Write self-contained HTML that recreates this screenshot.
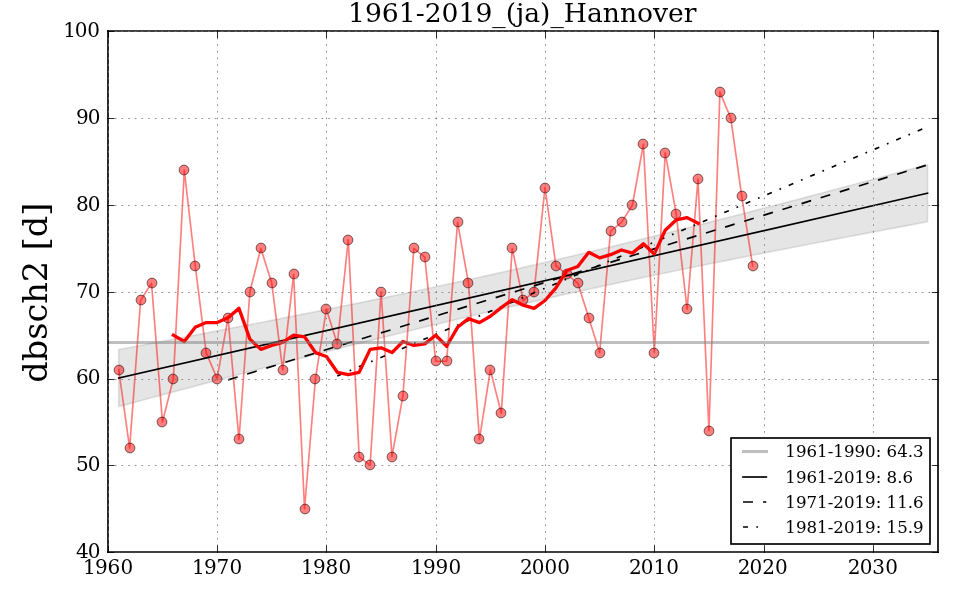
<!DOCTYPE html>
<html lang="de"><head><meta charset="utf-8"><title>1961-2019_(ja)_Hannover</title>
<style>html,body{margin:0;padding:0;background:#fff;overflow:hidden}svg{display:block}text{font-family:"DejaVu Serif","Liberation Serif",serif;fill:#000}</style></head><body>
<svg width="960" height="600" viewBox="0 0 960 600">
<rect width="960" height="600" fill="#fff"/>
<polygon points="118.73,349.5 129.66,347.46 140.59,345.41 151.52,343.35 162.45,341.3 173.38,339.23 184.31,337.16 195.24,335.08 206.17,332.99 217.1,330.9 228.03,328.8 238.96,326.69 249.89,324.57 260.82,322.45 271.75,320.31 282.68,318.16 293.61,316.01 304.54,313.84 315.47,311.66 326.4,309.47 337.33,307.27 348.26,305.05 359.19,302.82 370.12,300.58 381.05,298.32 391.98,296.05 402.91,293.76 413.84,291.45 424.77,289.13 435.7,286.79 446.63,284.44 457.56,282.06 468.49,279.67 479.42,277.26 490.35,274.83 501.28,272.38 512.21,269.91 523.14,267.42 534.07,264.91 545,262.39 555.93,259.84 566.86,257.28 577.79,254.69 588.72,252.09 599.65,249.47 610.58,246.83 621.51,244.18 632.44,241.5 643.37,238.81 654.3,236.11 665.23,233.39 676.16,230.65 687.09,227.9 698.02,225.13 708.95,222.35 719.88,219.56 730.81,216.76 741.74,213.94 752.67,211.11 763.6,208.28 774.53,205.43 785.46,202.57 796.39,199.7 807.32,196.82 818.25,193.94 829.18,191.04 840.11,188.14 851.04,185.23 861.97,182.31 872.9,179.39 883.83,176.46 894.76,173.53 905.69,170.59 916.62,167.64 927.55,164.69 927.55,221.8 916.62,223.84 905.69,225.89 894.76,227.94 883.83,230 872.9,232.07 861.97,234.14 851.04,236.22 840.11,238.31 829.18,240.4 818.25,242.5 807.32,244.61 796.39,246.73 785.46,248.85 774.53,250.99 763.6,253.14 752.67,255.29 741.74,257.46 730.81,259.64 719.88,261.83 708.95,264.03 698.02,266.25 687.09,268.48 676.16,270.72 665.23,272.98 654.3,275.25 643.37,277.54 632.44,279.85 621.51,282.17 610.58,284.51 599.65,286.86 588.72,289.24 577.79,291.63 566.86,294.04 555.93,296.47 545,298.92 534.07,301.39 523.14,303.88 512.21,306.38 501.28,308.91 490.35,311.46 479.42,314.02 468.49,316.61 457.56,319.21 446.63,321.83 435.7,324.47 424.77,327.12 413.84,329.8 402.91,332.49 391.98,335.19 381.05,337.91 370.12,340.65 359.19,343.4 348.26,346.17 337.33,348.95 326.4,351.74 315.47,354.54 304.54,357.36 293.61,360.19 282.68,363.02 271.75,365.87 260.82,368.73 249.89,371.6 238.96,374.48 228.03,377.36 217.1,380.26 206.17,383.16 195.24,386.07 184.31,388.98 173.38,391.91 162.45,394.84 151.52,397.77 140.59,400.71 129.66,403.66 118.73,406.61" fill="#000" fill-opacity="0.1" stroke="#000" stroke-opacity="0.1" stroke-width="1.67" stroke-linejoin="miter"/>
<g fill="none" stroke-linejoin="round">
<path d="M118.73 369.92 L129.66 448.04 L140.59 300.48 L151.52 283.12 L162.45 422 L173.38 378.6 L184.31 170.28 L195.24 265.76 L206.17 352.56 L217.1 378.6 L228.03 317.84 L238.96 439.36 L249.89 291.8 L260.82 248.4 L271.75 283.12 L282.68 369.92 L293.61 274.44 L304.54 508.8 L315.47 378.6 L326.4 309.16 L337.33 343.88 L348.26 239.72 L359.19 456.72 L370.12 465.4 L381.05 291.8 L391.98 456.72 L402.91 395.96 L413.84 248.4 L424.77 257.08 L435.7 361.24 L446.63 361.24 L457.56 222.36 L468.49 283.12 L479.42 439.36 L490.35 369.92 L501.28 413.32 L512.21 248.4 L523.14 300.48 L534.07 291.8 L545 187.64 L555.93 265.76 L566.86 274.44 L577.79 283.12 L588.72 317.84 L599.65 352.56 L610.58 231.04 L621.51 222.36 L632.44 205 L643.37 144.24 L654.3 352.56 L665.23 152.92 L676.16 213.68 L687.09 309.16 L698.02 178.96 L708.95 430.68 L719.88 92.16 L730.81 118.2 L741.74 196.32 L752.67 265.76" stroke="#f00" stroke-opacity="0.5" stroke-width="1.67" stroke-linecap="square"/>
</g>
<g fill="#f00" fill-opacity="0.5" stroke="#000" stroke-opacity="0.6" stroke-width="0.9">
<circle cx="119" cy="370" r="4.9"/>
<circle cx="130" cy="448" r="4.9"/>
<circle cx="141" cy="300" r="4.9"/>
<circle cx="152" cy="283" r="4.9"/>
<circle cx="162" cy="422" r="4.9"/>
<circle cx="173" cy="379" r="4.9"/>
<circle cx="184" cy="170" r="4.9"/>
<circle cx="195" cy="266" r="4.9"/>
<circle cx="206" cy="353" r="4.9"/>
<circle cx="217" cy="379" r="4.9"/>
<circle cx="228" cy="318" r="4.9"/>
<circle cx="239" cy="439" r="4.9"/>
<circle cx="250" cy="292" r="4.9"/>
<circle cx="261" cy="248" r="4.9"/>
<circle cx="272" cy="283" r="4.9"/>
<circle cx="283" cy="370" r="4.9"/>
<circle cx="294" cy="274" r="4.9"/>
<circle cx="305" cy="509" r="4.9"/>
<circle cx="315" cy="379" r="4.9"/>
<circle cx="326" cy="309" r="4.9"/>
<circle cx="337" cy="344" r="4.9"/>
<circle cx="348" cy="240" r="4.9"/>
<circle cx="359" cy="457" r="4.9"/>
<circle cx="370" cy="465" r="4.9"/>
<circle cx="381" cy="292" r="4.9"/>
<circle cx="392" cy="457" r="4.9"/>
<circle cx="403" cy="396" r="4.9"/>
<circle cx="414" cy="248" r="4.9"/>
<circle cx="425" cy="257" r="4.9"/>
<circle cx="436" cy="361" r="4.9"/>
<circle cx="447" cy="361" r="4.9"/>
<circle cx="458" cy="222" r="4.9"/>
<circle cx="468" cy="283" r="4.9"/>
<circle cx="479" cy="439" r="4.9"/>
<circle cx="490" cy="370" r="4.9"/>
<circle cx="501" cy="413" r="4.9"/>
<circle cx="512" cy="248" r="4.9"/>
<circle cx="523" cy="300" r="4.9"/>
<circle cx="534" cy="292" r="4.9"/>
<circle cx="545" cy="188" r="4.9"/>
<circle cx="556" cy="266" r="4.9"/>
<circle cx="567" cy="274" r="4.9"/>
<circle cx="578" cy="283" r="4.9"/>
<circle cx="589" cy="318" r="4.9"/>
<circle cx="600" cy="353" r="4.9"/>
<circle cx="611" cy="231" r="4.9"/>
<circle cx="622" cy="222" r="4.9"/>
<circle cx="632" cy="205" r="4.9"/>
<circle cx="643" cy="144" r="4.9"/>
<circle cx="654" cy="353" r="4.9"/>
<circle cx="665" cy="153" r="4.9"/>
<circle cx="676" cy="214" r="4.9"/>
<circle cx="687" cy="309" r="4.9"/>
<circle cx="698" cy="179" r="4.9"/>
<circle cx="709" cy="431" r="4.9"/>
<circle cx="720" cy="92" r="4.9"/>
<circle cx="731" cy="118" r="4.9"/>
<circle cx="742" cy="196" r="4.9"/>
<circle cx="753" cy="266" r="4.9"/>
</g>
<g fill="none" stroke="#000" stroke-width="1.67">
<line x1="118.73" y1="378.06" x2="927.55" y2="193.24" stroke-linecap="square"/>
<line x1="228.03" y1="379.87" x2="927.55" y2="164.86" stroke-dasharray="10 10"/>
<line x1="337.33" y1="375.87" x2="927.55" y2="126.81" stroke-dasharray="5 8.33 1.67 8.33"/>
</g>
<path d="M173.38 335.2 L184.31 341.51 L195.24 327.31 L206.17 322.57 L217.1 322.57 L228.03 317.84 L238.96 308.37 L249.89 339.15 L260.82 349.4 L271.75 345.46 L282.68 342.3 L293.61 335.2 L304.54 336.78 L315.47 352.56 L326.4 356.51 L337.33 372.29 L348.26 374.65 L359.19 372.29 L370.12 349.4 L381.05 347.83 L391.98 352.56 L402.91 341.51 L413.84 345.46 L424.77 343.88 L435.7 335.2 L446.63 346.25 L457.56 327.31 L468.49 318.63 L479.42 322.57 L490.35 316.26 L501.28 307.58 L512.21 299.69 L523.14 305.21 L534.07 308.37 L545 300.48 L555.93 287.85 L566.86 270.49 L577.79 266.55 L588.72 252.35 L599.65 257.87 L610.58 254.71 L621.51 249.98 L632.44 253.13 L643.37 243.67 L654.3 253.92 L665.23 230.25 L676.16 219.99 L687.09 217.63 L698.02 223.15" fill="none" stroke="#f00" stroke-width="3.33" stroke-linejoin="round" stroke-linecap="square"/>
<line x1="108" y1="342.5" x2="929.22" y2="342.5" stroke="#808080" stroke-opacity="0.5" stroke-width="3.12"/>
<g stroke="#000" stroke-width="1.67" stroke-linecap="square" fill="none">
<line x1="108" y1="552" x2="108" y2="31"/>
<line x1="938" y1="552" x2="938" y2="31"/>
<line x1="108" y1="552" x2="938" y2="552"/>
<line x1="108" y1="31" x2="938" y2="31"/>
</g>
<g stroke="#787878" stroke-width="0.83" stroke-dasharray="1.67 5" fill="none">
<line x1="108.5" y1="552.8" x2="108.5" y2="31"/>
<line x1="217.5" y1="552.8" x2="217.5" y2="31"/>
<line x1="326.5" y1="552.8" x2="326.5" y2="31"/>
<line x1="436.5" y1="552.8" x2="436.5" y2="31"/>
<line x1="545.5" y1="552.8" x2="545.5" y2="31"/>
<line x1="654.5" y1="552.8" x2="654.5" y2="31"/>
<line x1="764.5" y1="552.8" x2="764.5" y2="31"/>
<line x1="873.5" y1="552.8" x2="873.5" y2="31"/>
<line x1="108.1" y1="465.5" x2="938" y2="465.5"/>
<line x1="108.1" y1="379.5" x2="938" y2="379.5"/>
<line x1="108.1" y1="292.5" x2="938" y2="292.5"/>
<line x1="108.1" y1="205.5" x2="938" y2="205.5"/>
<line x1="108.1" y1="118.5" x2="938" y2="118.5"/>
<line x1="108.1" y1="31.5" x2="938" y2="31.5"/>
</g>
<g stroke="#000" stroke-width="0.83" fill="none">
<line x1="108.5" y1="553" x2="108.5" y2="545.53"/>
<line x1="108.5" y1="30" x2="108.5" y2="38.07"/>
<line x1="217.5" y1="553" x2="217.5" y2="545.53"/>
<line x1="217.5" y1="30" x2="217.5" y2="38.07"/>
<line x1="326.5" y1="553" x2="326.5" y2="545.53"/>
<line x1="326.5" y1="30" x2="326.5" y2="38.07"/>
<line x1="436.5" y1="553" x2="436.5" y2="545.53"/>
<line x1="436.5" y1="30" x2="436.5" y2="38.07"/>
<line x1="545.5" y1="553" x2="545.5" y2="545.53"/>
<line x1="545.5" y1="30" x2="545.5" y2="38.07"/>
<line x1="654.5" y1="553" x2="654.5" y2="545.53"/>
<line x1="654.5" y1="30" x2="654.5" y2="38.07"/>
<line x1="764.5" y1="553" x2="764.5" y2="545.53"/>
<line x1="764.5" y1="30" x2="764.5" y2="38.07"/>
<line x1="873.5" y1="553" x2="873.5" y2="545.53"/>
<line x1="873.5" y1="30" x2="873.5" y2="38.07"/>
<line x1="107" y1="552.5" x2="114.47" y2="552.5"/>
<line x1="939" y1="552.5" x2="931.81" y2="552.5"/>
<line x1="107" y1="465.5" x2="114.47" y2="465.5"/>
<line x1="939" y1="465.5" x2="931.81" y2="465.5"/>
<line x1="107" y1="379.5" x2="114.47" y2="379.5"/>
<line x1="939" y1="379.5" x2="931.81" y2="379.5"/>
<line x1="107" y1="292.5" x2="114.47" y2="292.5"/>
<line x1="939" y1="292.5" x2="931.81" y2="292.5"/>
<line x1="107" y1="205.5" x2="114.47" y2="205.5"/>
<line x1="939" y1="205.5" x2="931.81" y2="205.5"/>
<line x1="107" y1="118.5" x2="114.47" y2="118.5"/>
<line x1="939" y1="118.5" x2="931.81" y2="118.5"/>
<line x1="107" y1="31.5" x2="114.47" y2="31.5"/>
<line x1="939" y1="31.5" x2="931.81" y2="31.5"/>
</g>
<g font-size="20px">
<text x="83.07 94.94 107.56 120.43" y="574">1960</text>
<text x="192.07 203.94 216.56 229.43" y="574">1970</text>
<text x="301.07 312.94 325.56 338.43" y="574">1980</text>
<text x="411.07 422.94 435.56 448.43" y="574">1990</text>
<text x="519.97 531.84 544.46 557.33" y="574">2000</text>
<text x="628.97 640.84 653.46 666.33" y="574">2010</text>
<text x="737.72 749.59 762.21 775.08" y="574">2020</text>
<text x="847.87 859.74 872.36 885.23" y="574">2030</text>
<text x="76.11 87.73" y="557.9">40</text>
<text x="76.11 87.73" y="471.1">50</text>
<text x="76.11 87.73" y="384.3">60</text>
<text x="76.11 87.73" y="297.5">70</text>
<text x="76.11 87.73" y="210.7">80</text>
<text x="76.11 87.73" y="123.9">90</text>
<text x="63.24 74.66 87.33" y="37.1">100</text>
</g>
<text x="522.3" y="21.6" font-size="26.6px" text-anchor="middle">1961-2019_(ja)_Hannover</text>
<text transform="translate(46.6 292.65) rotate(-90)" font-size="33.5px" text-anchor="middle">dbsch2 [d]</text>
<rect x="731" y="438" width="199" height="106" fill="#fff" stroke="#000" stroke-width="1.67"/>
<line x1="742" y1="451.5" x2="768" y2="451.5" stroke="#808080" stroke-opacity="0.5" stroke-width="3.12"/>
<line x1="743" y1="477.0" x2="766.33" y2="477.0" stroke="#000" stroke-width="1.67" stroke-linecap="square"/>
<line x1="743" y1="502.0" x2="766.33" y2="502.0" stroke="#000" stroke-width="1.67" stroke-dasharray="10 10"/>
<line x1="743" y1="527.0" x2="766.33" y2="527.0" stroke="#000" stroke-width="1.67" stroke-dasharray="5 8.33 1.67 8.33"/>
<g font-size="16.67px">
<text x="785.3" y="457.0">1961-1990: 64.3</text>
<text x="785.3" y="482.7">1961-2019: 8.6</text>
<text x="785.3" y="507.9">1971-2019: 11.6</text>
<text x="785.3" y="532.7">1981-2019: 15.9</text>
</g>
</svg></body></html>
